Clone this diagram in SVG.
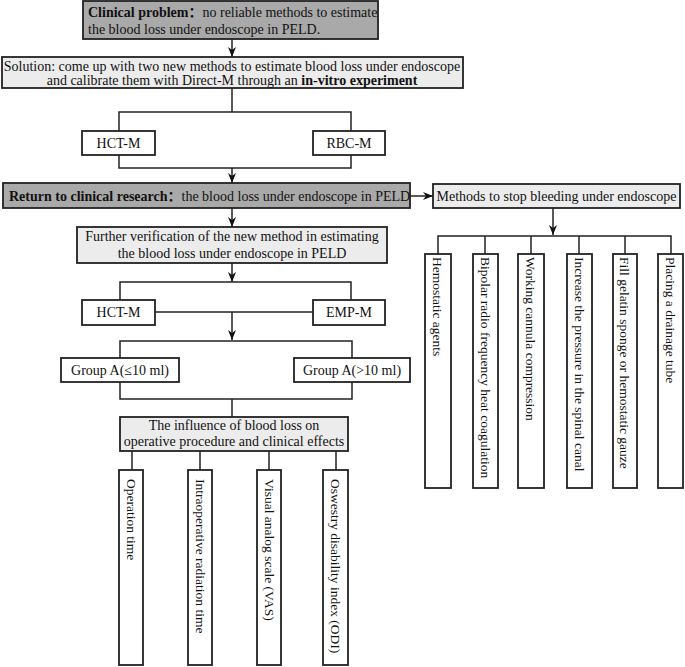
<svg xmlns="http://www.w3.org/2000/svg" width="685" height="667" viewBox="0 0 685 667">
<defs>
<style>
text{font-family:"Liberation Serif","Noto Sans CJK SC",serif;font-size:14px;fill:#111}
.b{font-weight:bold}
.box{stroke:#222;stroke-width:1.8;fill:#fff}
.dark{fill:#a9a9a9}
.light{fill:#ececec}
.ln{stroke:#222;stroke-width:1.5;fill:none}
.v{font-size:13.5px}
</style>
<marker id="arr" markerWidth="10" markerHeight="8" refX="10" refY="4" orient="auto" markerUnits="userSpaceOnUse">
<path d="M0,0 L10,4 L0,8 L3,4 z" fill="#111"/>
</marker>
</defs>
<rect width="685" height="667" fill="#fff"/>

<g id="connectors">
<line class="ln" x1="232" y1="39" x2="232" y2="57" marker-end="url(#arr)"/>
<polyline class="ln" points="232,88 232,112"/>
<polyline class="ln" points="119,131 119,112 351,112 351,131"/>
<polyline class="ln" points="119,155 119,168 351,168 351,155"/>
<line class="ln" x1="232" y1="168" x2="232" y2="183" marker-end="url(#arr)"/>
<line class="ln" x1="232" y1="208" x2="232" y2="227" marker-end="url(#arr)"/>
<line class="ln" x1="410" y1="196" x2="433" y2="196" marker-end="url(#arr)"/>
<line class="ln" x1="232" y1="263" x2="232" y2="282" marker-end="url(#arr)"/>
<polyline class="ln" points="120,300 120,282 351,282 351,300"/>
<line class="ln" x1="155" y1="312" x2="313" y2="312"/>
<line class="ln" x1="232" y1="312" x2="232" y2="340" marker-end="url(#arr)"/>
<polyline class="ln" points="120,358 120,341 352,341 352,358"/>
<polyline class="ln" points="120,382 120,399 352,399 352,382"/>
<line class="ln" x1="232" y1="399" x2="232" y2="417"/>
<line class="ln" x1="132" y1="451" x2="132" y2="470"/>
<line class="ln" x1="200" y1="451" x2="200" y2="470"/>
<line class="ln" x1="269" y1="451" x2="269" y2="470"/>
<line class="ln" x1="336" y1="451" x2="336" y2="470"/>
<line class="ln" x1="553" y1="208" x2="553" y2="235" marker-end="url(#arr)"/>
<polyline class="ln" points="438,254 438,236 671,236 671,254"/>
<line class="ln" x1="485" y1="236" x2="485" y2="254"/>
<line class="ln" x1="531" y1="236" x2="531" y2="254"/>
<line class="ln" x1="579" y1="236" x2="579" y2="254"/>
<line class="ln" x1="625" y1="236" x2="625" y2="254"/>
</g>

<g id="clinical-problem">
<rect class="box dark" x="83" y="1" width="295" height="38"/>
<text x="88" y="17"><tspan class="b">Clinical problem：</tspan>no reliable methods to estimate</text>
<text x="88" y="34">the blood loss under endoscope in PELD.</text>
</g>

<g id="solution">
<rect class="box light" x="2" y="57" width="461" height="31"/>
<text x="232" y="71" text-anchor="middle">Solution: come up with two new methods to estimate blood loss under endoscope</text>
<text x="232" y="85" text-anchor="middle">and calibrate them with Direct-M through an <tspan class="b">in-vitro experiment</tspan></text>
</g>

<g id="hct-m-1">
<rect class="box" x="82" y="131" width="73" height="24"/>
<text x="118.5" y="148" text-anchor="middle">HCT-M</text>
</g>
<g id="rbc-m">
<rect class="box" x="313" y="131" width="72" height="24"/>
<text x="349" y="148" text-anchor="middle">RBC-M</text>
</g>

<g id="return-clinical">
<rect class="box dark" x="3" y="183" width="407" height="25"/>
<text x="9" y="201"><tspan class="b">Return to clinical research：</tspan>the blood loss under endoscope in PELD</text>
</g>

<g id="methods-stop">
<rect class="box light" x="433" y="184" width="247" height="24"/>
<text x="556.5" y="201" text-anchor="middle">Methods to stop bleeding under endoscope</text>
</g>

<g id="further-verification">
<rect class="box light" x="77" y="227" width="310" height="36"/>
<text x="232" y="241" text-anchor="middle">Further verification of the new method in estimating</text>
<text x="232" y="258" text-anchor="middle">the blood loss under endoscope in PELD</text>
</g>

<g id="hct-m-2">
<rect class="box" x="82" y="300" width="73" height="25"/>
<text x="118.5" y="317" text-anchor="middle">HCT-M</text>
</g>
<g id="emp-m">
<rect class="box" x="313" y="300" width="72" height="25"/>
<text x="349" y="317" text-anchor="middle">EMP-M</text>
</g>

<g id="group-a-low">
<rect class="box" x="61" y="358" width="118" height="24"/>
<text x="120" y="375" text-anchor="middle">Group A(≤10 ml)</text>
</g>
<g id="group-a-high">
<rect class="box" x="294" y="358" width="116" height="24"/>
<text x="352" y="375" text-anchor="middle">Group A(&gt;10 ml)</text>
</g>

<g id="influence">
<rect class="box light" x="120" y="417" width="228" height="34"/>
<text x="234" y="430" text-anchor="middle">The influence of blood loss on</text>
<text x="234" y="446" text-anchor="middle">operative procedure and clinical effects</text>
</g>

<g id="operation-time">
<rect class="box" x="119" y="470" width="24" height="195"/>
<text class="v" transform="translate(126.5,479) rotate(90)">Operation time</text>
</g>
<g id="radiation-time">
<rect class="box" x="188" y="470" width="24" height="195"/>
<text class="v" transform="translate(195.5,479) rotate(90)">Intraoperative radiation time</text>
</g>
<g id="vas">
<rect class="box" x="257" y="470" width="24" height="195"/>
<text class="v" transform="translate(264.5,479) rotate(90)">Visual analog scale (VAS)</text>
</g>
<g id="odi">
<rect class="box" x="323" y="470" width="25" height="195"/>
<text class="v" transform="translate(331,479) rotate(90)">Oswestry disability index (ODI)</text>
</g>

<g id="hemostatic-agents">
<rect class="box" x="425" y="254" width="26" height="234"/>
<text class="v" transform="translate(433,257) rotate(90)">Hemostatic agents</text>
</g>
<g id="bipolar">
<rect class="box" x="473" y="254" width="25" height="234"/>
<text class="v" transform="translate(480.5,257) rotate(90)">Bipolar radio frequency heat coagulation</text>
</g>
<g id="cannula">
<rect class="box" x="518" y="254" width="26" height="234"/>
<text class="v" transform="translate(526,257) rotate(90)">Working cannula compression</text>
</g>
<g id="pressure">
<rect class="box" x="567" y="254" width="25" height="234"/>
<text class="v" transform="translate(574.5,257) rotate(90)">Increase the pressure in the spinal canal</text>
</g>
<g id="gelatin">
<rect class="box" x="613" y="254" width="24" height="234"/>
<text class="v" transform="translate(620,257) rotate(90)">Fill gelatin sponge or hemostatic gauze</text>
</g>
<g id="drainage">
<rect class="box" x="658" y="254" width="25" height="234"/>
<text class="v" transform="translate(665.5,257) rotate(90)">Placing a drainage tube</text>
</g>
</svg>
